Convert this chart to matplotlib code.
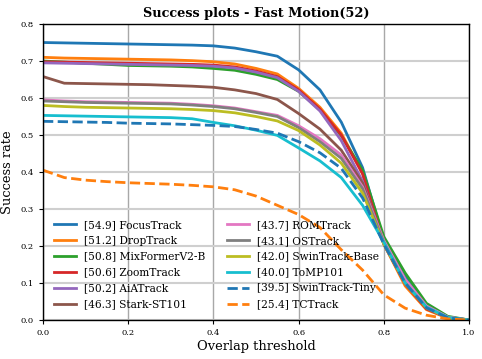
import matplotlib
matplotlib.use("Agg")
import matplotlib.pyplot as plt
import numpy as np

thresholds = [0.00, 0.05, 0.10, 0.15, 0.20, 0.25, 0.30, 0.35, 0.40, 0.45, 0.50,
              0.55, 0.60, 0.65, 0.70, 0.75, 0.80, 0.85, 0.90, 0.95, 1.00]

focustrack = [0.750, 0.749, 0.748, 0.747, 0.746, 0.745, 0.744, 0.743, 0.741, 0.735, 0.725,
              0.713, 0.676, 0.622, 0.535, 0.412, 0.215, 0.118, 0.040, 0.008, 0.0]
droptrack = [0.710, 0.708, 0.707, 0.706, 0.705, 0.704, 0.703, 0.701, 0.698, 0.692, 0.680,
             0.665, 0.626, 0.575, 0.505, 0.397, 0.205, 0.092, 0.028, 0.005, 0.0]
mixformer = [0.700, 0.697, 0.694, 0.691, 0.688, 0.687, 0.686, 0.684, 0.680, 0.675, 0.664,
             0.650, 0.618, 0.568, 0.498, 0.405, 0.225, 0.127, 0.045, 0.010, 0.0]
zoomtrack = [0.698, 0.697, 0.696, 0.695, 0.694, 0.693, 0.692, 0.691, 0.689, 0.684, 0.673,
             0.658, 0.622, 0.570, 0.500, 0.395, 0.205, 0.098, 0.030, 0.006, 0.0]
aiatrack = [0.695, 0.694, 0.693, 0.692, 0.691, 0.690, 0.689, 0.688, 0.686, 0.681, 0.670,
            0.655, 0.618, 0.565, 0.485, 0.375, 0.205, 0.103, 0.035, 0.007, 0.0]
stark = [0.658, 0.640, 0.639, 0.638, 0.637, 0.636, 0.634, 0.632, 0.629, 0.622, 0.612,
         0.596, 0.558, 0.516, 0.459, 0.370, 0.210, 0.105, 0.035, 0.007, 0.0]
romtrack = [0.595, 0.592, 0.590, 0.589, 0.588, 0.587, 0.586, 0.583, 0.579, 0.573, 0.563,
            0.553, 0.525, 0.490, 0.446, 0.360, 0.215, 0.110, 0.038, 0.008, 0.0]
ostrack = [0.592, 0.590, 0.588, 0.587, 0.586, 0.585, 0.584, 0.581, 0.577, 0.571, 0.561,
           0.550, 0.520, 0.482, 0.437, 0.355, 0.210, 0.100, 0.033, 0.006, 0.0]
swinbase = [0.580, 0.577, 0.575, 0.574, 0.573, 0.572, 0.571, 0.569, 0.566, 0.560, 0.550,
            0.538, 0.512, 0.473, 0.424, 0.343, 0.205, 0.100, 0.033, 0.006, 0.0]
tomp = [0.553, 0.552, 0.551, 0.550, 0.549, 0.548, 0.547, 0.544, 0.534, 0.525, 0.513,
        0.499, 0.465, 0.430, 0.385, 0.310, 0.210, 0.100, 0.035, 0.007, 0.0]
swintiny = [0.537, 0.536, 0.535, 0.534, 0.532, 0.531, 0.530, 0.528, 0.526, 0.523, 0.515,
            0.505, 0.482, 0.452, 0.410, 0.330, 0.205, 0.100, 0.033, 0.006, 0.0]
tctrack = [0.405, 0.385, 0.378, 0.374, 0.371, 0.369, 0.367, 0.364, 0.360, 0.352, 0.335,
           0.310, 0.285, 0.250, 0.190, 0.135, 0.068, 0.032, 0.013, 0.003, 0.0]

labels = ["[54.9] FocusTrack", "[51.2] DropTrack", "[50.8] MixFormerV2-B",
          "[50.6] ZoomTrack", "[50.2] AiATrack", "[46.3] Stark-ST101",
          "[43.7] ROMTrack", "[43.1] OSTrack", "[42.0] SwinTrack-Base",
          "[40.0] ToMP101", "[39.5] SwinTrack-Tiny", "[25.4] TCTrack"]
series = [focustrack, droptrack, mixformer, zoomtrack, aiatrack, stark,
          romtrack, ostrack, swinbase, tomp, swintiny, tctrack]
colors = ["tab:blue", "tab:orange", "tab:green", "tab:red", "tab:purple", "tab:brown",
          "tab:pink", "tab:gray", "tab:olive", "tab:cyan", "tab:blue", "tab:orange"]
styles = ["-"] * 10 + ["--", "--"]

plt.rcParams['font.family'] = ['DejaVu Serif']

fig = plt.figure(figsize=(4.82, 3.59), dpi=100)
ax = fig.add_axes([0.0892, 0.1086, 0.884, 0.8245])

for y, lab, c, ls in zip(series, labels, colors, styles):
    ax.plot(thresholds, y, color=c, linestyle=ls, linewidth=2, label=lab)

ax.set_xlim(0, 1)
ax.set_ylim(0, 0.8)
ax.set_xticks(np.arange(0, 1.01, 0.2))
ax.set_yticks(np.arange(0, 0.81, 0.1))
ax.xaxis.grid(True, color='#a8a8a8', linewidth=1.0)
ax.yaxis.grid(True, color='#cfcfcf', linewidth=1.5)
ax.set_axisbelow(True)
ax.tick_params(labelsize=6, length=3, width=0.8)
for s in ax.spines.values():
    s.set_linewidth(1.0)

ax.set_xlabel("Overlap threshold", fontsize=9.4, labelpad=2)
ax.set_ylabel("Success rate", fontsize=9.4)
ax.yaxis.set_label_coords(-0.068, 0.5)
ax.set_title("Success plots - Fast Motion(52)", fontsize=9.3, fontweight='bold', pad=5)

leg = ax.legend(loc='lower left', ncol=2, frameon=False, fontsize=7.7,
                bbox_to_anchor=(0.0, 0.0), handlelength=2.1, handletextpad=0.75,
                columnspacing=2.0, labelspacing=0.55, borderaxespad=0.6)

fig.savefig("out.png", dpi=100)
